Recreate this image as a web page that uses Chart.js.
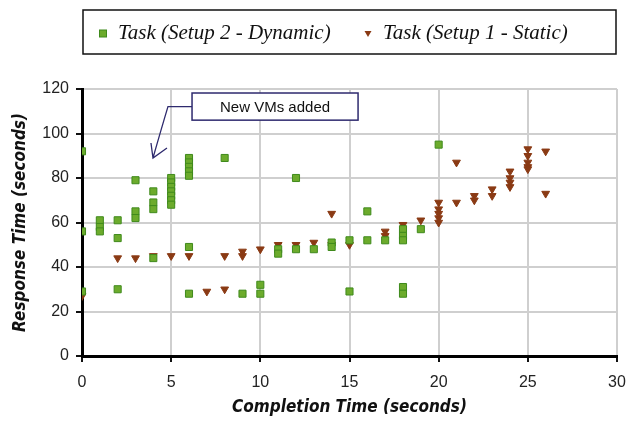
<!DOCTYPE html>
<html>
<head>
<meta charset="utf-8">
<script src="https://cdn.jsdelivr.net/npm/chart.js@4/dist/chart.umd.min.js"></script>
<style>
  html, body { margin: 0; padding: 0; background: #fff; }
  #wrap { width: 630px; height: 424px; }
</style>
</head>
<body>
<div id="wrap"><canvas id="chart"></canvas></div>
<script>
// completion time (s) -> response times (s)
const dynamicX = [0, 0, 0, 1, 1, 1, 2, 2, 2, 3, 3, 3, 4, 4, 4, 4,
  5, 5, 5, 5, 5, 5, 5, 6, 6, 6, 6, 6, 6, 6, 8, 9, 10, 10, 11, 11,
  12, 12, 13, 14, 14, 15, 15, 16, 16, 17, 18, 18, 18, 18, 18, 19, 20];
const dynamicY = [92, 56, 29, 61, 58, 56, 61, 53, 30, 79, 65, 62, 74, 69, 66, 44,
  80, 78, 76, 74, 72, 70, 68, 89, 87, 85, 83, 81, 49, 28, 89, 28, 32, 28, 48, 46,
  80, 48, 48, 51, 49, 52, 29, 65, 52, 52, 57, 54, 52, 31, 28, 57, 95];

const staticX = [0, 2, 3, 4, 5, 6, 7, 8, 8, 9, 9, 10, 11, 12, 13, 14, 14, 15,
  17, 17, 18, 19, 20, 20, 20, 20, 20, 21, 21, 22, 22, 23, 23, 24, 24, 24, 24,
  25, 25, 25, 25, 25, 26, 26];
const staticY = [27, 44, 44, 45, 45, 45, 29, 30, 45, 47, 45, 48, 50, 50, 51, 64, 50, 50,
  56, 54, 59, 61, 69, 66, 64, 62, 60, 87, 69, 72, 70, 75, 72, 83, 80, 78, 76,
  93, 90, 87, 85, 84, 92, 73];

const seriesLabels = ['Task (Setup 2 - Dynamic)', 'Task (Setup 1 - Static)'];
const xTicks = [0, 5, 10, 15, 20, 25, 30];
const yTicks = [0, 20, 40, 60, 80, 100, 120];
const noteText = 'New VMs added';

function toPoints(xs, ys) {
  return xs.map((x, i) => ({ x: x, y: ys[i] }));
}

const TICK_FONT = { family: "'Liberation Sans', Arial, sans-serif", size: 16 };
const TITLE_FONT = { family: "'Liberation Sans Narrow', 'DejaVu Sans Condensed', sans-serif", size: 17, weight: 'bold', style: 'italic' };

// legend in a box + the "New VMs added" callout
const extras = {
  id: 'extras',
  afterDraw(chart) {
    const ctx = chart.ctx;
    const xs = chart.scales.x, ys = chart.scales.y;
    ctx.save();

    // legend box
    ctx.strokeStyle = '#111';
    ctx.lineWidth = 1.5;
    ctx.strokeRect(83, 10, 533, 44);
    ctx.font = "italic 21px 'Liberation Serif', 'Times New Roman', serif";
    ctx.fillStyle = '#111';
    ctx.textBaseline = 'middle';
    const ds = chart.data.datasets;
    const lx = [103, 368];
    ds.forEach((d, i) => {
      ctx.fillStyle = d.backgroundColor;
      ctx.strokeStyle = d.borderColor;
      ctx.lineWidth = 1;
      if (i === 0) {
        ctx.fillRect(lx[i] - 3.5, 30, 7, 7);
        ctx.strokeRect(lx[i] - 3.5, 30, 7, 7);
      } else {
        ctx.beginPath();
        ctx.moveTo(lx[i] - 3.5, 31);
        ctx.lineTo(lx[i] + 3.5, 31);
        ctx.lineTo(lx[i], 37);
        ctx.closePath();
        ctx.fill();
      }
      ctx.fillStyle = '#111';
      ctx.fillText(d.label, lx[i] + 15, 33);
    });

    // callout box
    const bx0 = xs.getPixelForValue(6.17), bx1 = xs.getPixelForValue(15.48);
    const by0 = ys.getPixelForValue(118.2), by1 = ys.getPixelForValue(106);
    ctx.fillStyle = '#fff';
    ctx.fillRect(bx0, by0, bx1 - bx0, by1 - by0);
    ctx.strokeStyle = '#2e2a6e';
    ctx.lineWidth = 1.5;
    ctx.strokeRect(bx0, by0, bx1 - bx0, by1 - by0);
    ctx.fillStyle = '#111';
    ctx.font = "15px 'Liberation Sans', Arial, sans-serif";
    ctx.textAlign = 'center';
    ctx.fillText(noteText, (bx0 + bx1) / 2, (by0 + by1) / 2 + 1);

    // arrow
    const sx = bx0, sy = (by0 + by1) / 2;
    const cx = xs.getPixelForValue(4.82);
    const tx = xs.getPixelForValue(3.98), ty = ys.getPixelForValue(89);
    ctx.strokeStyle = '#2e2a6e';
    ctx.lineWidth = 1.3;
    ctx.beginPath();
    ctx.moveTo(sx, sy);
    ctx.lineTo(cx, sy);
    ctx.quadraticCurveTo(cx - 6, sy + 20, tx, ty);
    ctx.moveTo(tx - 2, ty - 15);
    ctx.lineTo(tx, ty);
    ctx.lineTo(tx + 14, ty - 10);
    ctx.stroke();
    ctx.restore();
  }
};

new Chart(document.getElementById('chart'), {
  type: 'scatter',
  data: {
    datasets: [{
      label: seriesLabels[0],
      data: toPoints(dynamicX, dynamicY),
      pointStyle: 'rect',
      radius: 5,
      backgroundColor: '#6cab2c',
      borderColor: '#3f8a1c',
      borderWidth: 1
    }, {
      label: seriesLabels[1],
      data: toPoints(staticX, staticY),
      pointStyle: 'triangle',
      rotation: 180,
      radius: 4.5,
      backgroundColor: '#8a3a14',
      borderColor: '#8a3a14',
      borderWidth: 1
    }]
  },
  options: {
    responsive: true,
    maintainAspectRatio: false,
    animation: false,
    layout: { padding: { top: 89, right: 13, left: 0, bottom: 0 } },
    plugins: {
      legend: { display: false },
      tooltip: { enabled: false }
    },
    scales: {
      x: {
        type: 'linear',
        min: 0,
        max: 30,
        afterBuildTicks: axis => { axis.ticks = xTicks.map(v => ({ value: v })); },
        afterFit: axis => {
          axis.height = 68;
          axis.paddingLeft = 0;
          axis.paddingRight = 0;
        },
        grid: { color: '#cfcfcf', lineWidth: 2, tickLength: 6, tickColor: '#111' },
        border: { color: '#000', width: 3 },
        ticks: { font: TICK_FONT, color: '#222', padding: 11, maxRotation: 0 },
        title: { display: true, text: 'Completion Time (seconds)', font: TITLE_FONT, color: '#111', padding: { top: 0, bottom: 6 } }
      },
      y: {
        min: 0,
        max: 120,
        afterBuildTicks: axis => { axis.ticks = yTicks.map(v => ({ value: v })); },
        afterFit: axis => { axis.width = 82; },
        grid: { color: '#cfcfcf', lineWidth: 2, tickLength: 6, tickColor: '#111' },
        border: { color: '#000', width: 3 },
        ticks: { font: TICK_FONT, color: '#222', padding: 7 },
        title: { display: true, text: 'Response Time (seconds)', font: TITLE_FONT, color: '#111', padding: { top: 10, bottom: 0 } }
      }
    }
  },
  plugins: [extras]
});
</script>
</body>
</html>
